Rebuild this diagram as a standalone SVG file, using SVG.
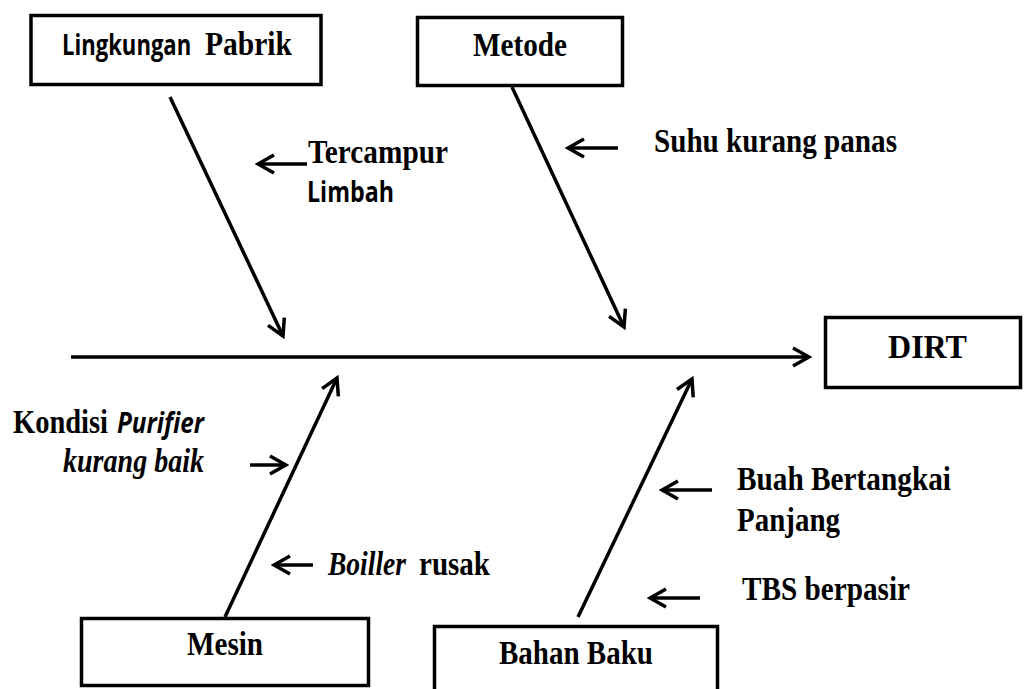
<svg xmlns="http://www.w3.org/2000/svg" width="1025" height="689" viewBox="0 0 1025 689">
<defs>
<style>
.box{fill:#fff;stroke:#000;stroke-width:3.5}
.ln{stroke:#000;stroke-width:3.5;fill:none;marker-end:url(#ah)}
.t{font-family:"Liberation Serif","Times New Roman",serif;font-weight:bold;font-size:34px;fill:#000}
.ti{font-family:"Liberation Serif","Times New Roman",serif;font-weight:bold;font-style:italic;font-size:34px;fill:#000}
.s{font-family:"Open Sans","Liberation Sans",sans-serif;font-weight:bold;font-size:29px;fill:#000}
.si{font-family:"Open Sans","Liberation Sans",sans-serif;font-weight:bold;font-style:italic;font-size:29px;fill:#000}
</style>
<marker id="ah" viewBox="0 0 22 22" refX="19" refY="11" markerWidth="22" markerHeight="22" markerUnits="userSpaceOnUse" orient="auto">
<path d="M3,2 L19,11 L3,20" fill="none" stroke="#000" stroke-width="3.5"/>
</marker>
</defs>
<rect width="1025" height="689" fill="#fff"/>
<g id="connectors">
<line class="ln" x1="71" y1="357" x2="809" y2="357"/>
<line class="ln" x1="170" y1="97" x2="283" y2="336"/>
<line class="ln" x1="512" y1="87" x2="624" y2="327"/>
<line class="ln" x1="225" y1="617" x2="337" y2="378"/>
<line class="ln" x1="578" y1="617" x2="692" y2="379"/>
<line class="ln" x1="307" y1="164" x2="258" y2="164"/>
<line class="ln" x1="618" y1="148" x2="568" y2="148"/>
<line class="ln" x1="250" y1="465" x2="286" y2="465"/>
<line class="ln" x1="313" y1="565" x2="274" y2="565"/>
<line class="ln" x1="712" y1="490" x2="662" y2="490"/>
<line class="ln" x1="700" y1="598" x2="650" y2="598"/>
</g>
<g id="lingkungan">
<rect class="box" x="31" y="15.5" width="290" height="69"/>
<text class="s" transform="translate(62,55) scale(0.76,1)" x="0" y="0" textLength="170" lengthAdjust="spacingAndGlyphs">Lingkungan</text>
<text class="t" x="205" y="55" textLength="87" lengthAdjust="spacingAndGlyphs">Pabrik</text>
</g>
<g id="metode">
<rect class="box" x="417.5" y="17.5" width="205" height="68"/>
<text class="t" x="473" y="56" textLength="94" lengthAdjust="spacingAndGlyphs">Metode</text>
</g>
<g id="dirt">
<rect class="box" x="825.5" y="317.5" width="195" height="70"/>
<text class="t" x="888" y="358" font-size="37" textLength="79" lengthAdjust="spacingAndGlyphs">DIRT</text>
</g>
<g id="mesin">
<rect class="box" x="81.5" y="618.5" width="287" height="67"/>
<text class="t" x="187" y="655" textLength="76" lengthAdjust="spacingAndGlyphs">Mesin</text>
</g>
<g id="bahan-baku">
<rect class="box" x="434.5" y="626.5" width="283" height="70"/>
<text class="t" x="499" y="664" textLength="154" lengthAdjust="spacingAndGlyphs">Bahan Baku</text>
</g>
<g id="cause-tercampur">
<text class="t" x="308" y="163" textLength="140" lengthAdjust="spacingAndGlyphs">Tercampur</text>
<text class="s" x="307" y="202" textLength="87" lengthAdjust="spacingAndGlyphs">Limbah</text>
</g>
<g id="cause-suhu">
<text class="t" x="654" y="152" textLength="243" lengthAdjust="spacingAndGlyphs">Suhu kurang panas</text>
</g>
<g id="cause-purifier">
<text y="433"><tspan class="t" x="13" textLength="95" lengthAdjust="spacingAndGlyphs">Kondisi</tspan><tspan class="si" x="117" textLength="87" lengthAdjust="spacingAndGlyphs">Purifier</tspan></text>
<text class="ti" x="63" y="472" textLength="141" lengthAdjust="spacingAndGlyphs">kurang baik</text>
</g>
<g id="cause-boiller">
<text y="575"><tspan class="ti" x="328" textLength="78" lengthAdjust="spacingAndGlyphs">Boiller</tspan><tspan class="t" x="419" textLength="71" lengthAdjust="spacingAndGlyphs">rusak</tspan></text>
</g>
<g id="cause-buah">
<text class="t" x="737" y="490" textLength="214" lengthAdjust="spacingAndGlyphs">Buah Bertangkai</text>
<text class="t" x="737" y="531" textLength="103" lengthAdjust="spacingAndGlyphs">Panjang</text>
</g>
<g id="cause-tbs">
<text class="t" x="742" y="600" textLength="168" lengthAdjust="spacingAndGlyphs">TBS berpasir</text>
</g>
</svg>
